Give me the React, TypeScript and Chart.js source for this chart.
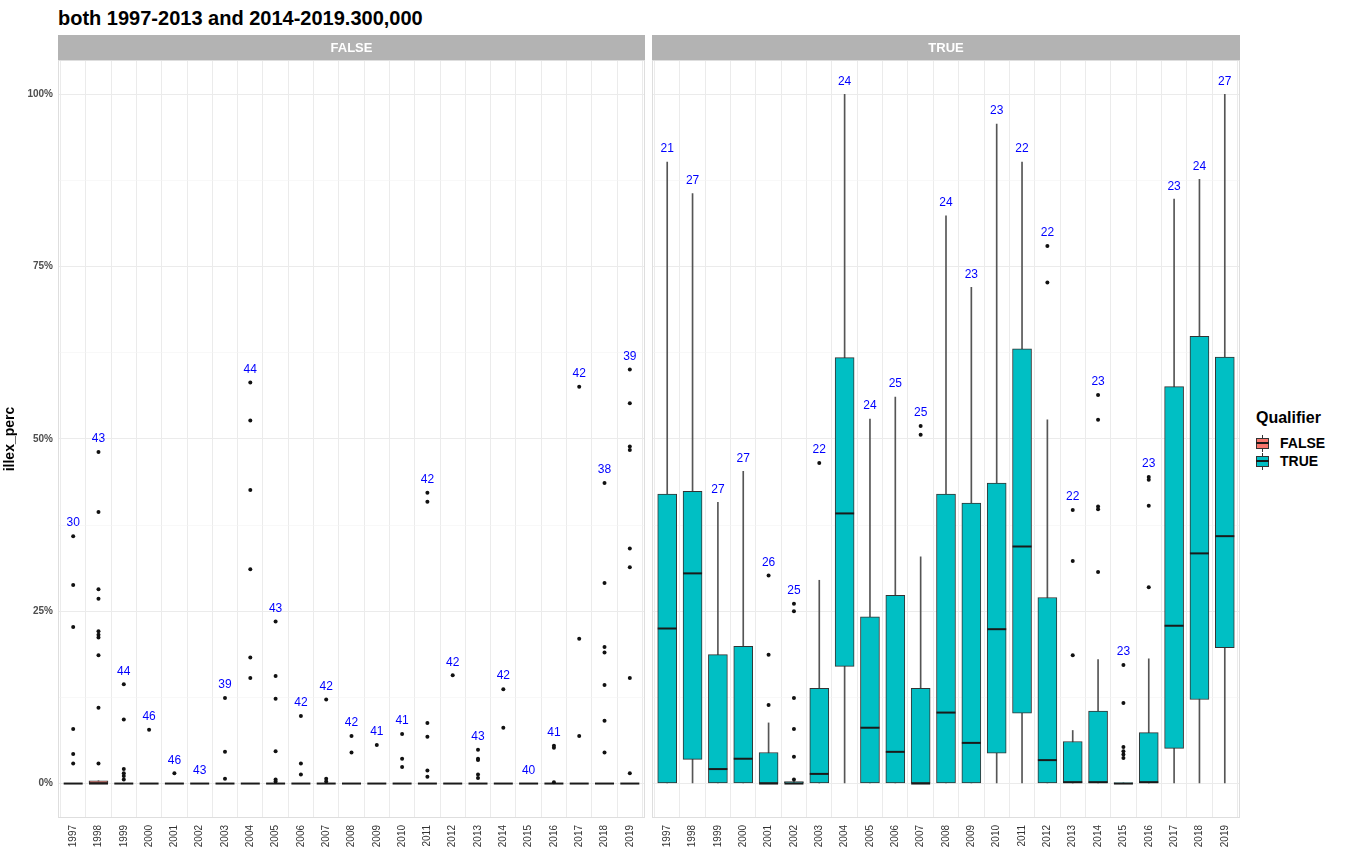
import React, { useEffect, useRef } from 'react';
import { Chart, registerables } from 'chart.js';

Chart.register(...registerables);

const FONT = '"Liberation Sans", Arial, Helvetica, sans-serif';
Chart.defaults.font.family = FONT;

const years = ['1997', '1998', '1999', '2000', '2001', '2002', '2003', '2004', '2005', '2006', '2007', '2008',
  '2009', '2010', '2011', '2012', '2013', '2014', '2015', '2016', '2017', '2018', '2019'];

const yGridValues = [0, 12.5, 25, 37.5, 50, 62.5, 75, 87.5, 100];

// ---- Facet FALSE ----
const falseLo = [0, 0, 0, 0, 0, 0, 0, 0, 0, 0, 0, 0, 0, 0, 0, 0, 0, 0, 0, 0, 0, 0, 0];
const falseQ1 = [0, 0, 0, 0, 0, 0, 0, 0, 0, 0, 0, 0, 0, 0, 0, 0, 0, 0, 0, 0, 0, 0, 0];
const falseMedian = [0, 0, 0, 0, 0, 0, 0, 0, 0, 0, 0, 0, 0, 0, 0, 0, 0, 0, 0, 0, 0, 0, 0];
const falseQ3 = [0, 0.4, 0, 0, 0, 0, 0, 0, 0, 0, 0, 0, 0, 0, 0, 0, 0, 0, 0, 0, 0, 0, 0];
const falseHi = [0, 0.4, 0, 0, 0, 0, 0, 0, 0, 0, 0, 0, 0, 0, 0, 0, 0, 0, 0, 0, 0, 0, 0];
const falseOutliers: number[][] = [
  [35.9, 28.8, 22.7, 7.9, 4.3, 2.9],
  [48.1, 39.4, 28.2, 26.8, 22.1, 21.6, 21.2, 18.6, 11.0, 2.9],
  [14.4, 9.3, 2.1, 1.5, 1.1, 0.6],
  [7.8],
  [1.5],
  [],
  [12.4, 4.6, 0.7],
  [58.2, 52.7, 42.6, 31.1, 18.3, 15.3],
  [23.5, 15.6, 12.3, 4.7, 0.6, 0.3],
  [9.8, 2.9, 1.3],
  [12.2, 0.7, 0.3],
  [6.9, 4.5],
  [5.6],
  [7.2, 3.6, 2.4],
  [42.2, 40.9, 8.8, 6.8, 1.9, 1.0],
  [15.7],
  [4.9, 3.6, 3.4, 1.3, 0.8],
  [13.7, 8.1],
  [],
  [5.5, 5.2, 0.2],
  [57.6, 21.0, 6.9],
  [43.6, 29.1, 19.8, 19.0, 14.3, 9.1, 4.5],
  [60.1, 55.2, 48.9, 48.4, 34.1, 31.4, 15.3, 1.5],
];
const falseCounts = [30, 43, 44, 46, 46, 43, 39, 44, 43, 42, 42, 42, 41, 41, 42, 42, 43, 42, 40, 41, 42, 38, 39];

// ---- Facet TRUE ----
const trueLo = [0, 0, 0, 0, 0, 0, 0, 0, 0, 0, 0, 0, 0, 0, 0, 0, 0, 0, 0, 0, 0, 0, 0];
const trueQ1 = [0, 3.5, 0, 0, 0, 0, 0, 17.0, 0, 0, 0, 0, 0, 4.4, 10.2, 0, 0, 0, 0, 0, 5.1, 12.2, 19.7];
const trueMedian = [22.5, 30.5, 2.1, 3.6, 0, 0, 1.4, 39.2, 8.1, 4.6, 0, 10.3, 5.9, 22.4, 34.4, 3.4, 0.2, 0.2, 0, 0.2, 22.9, 33.4, 35.9];
const trueQ3 = [42.0, 42.4, 18.7, 19.9, 4.5, 0.3, 13.8, 61.8, 24.2, 27.3, 13.8, 42.0, 40.7, 43.6, 63.1, 27.0, 6.1, 10.5, 0.1, 7.4, 57.6, 64.9, 61.9];
const trueHi = [90.2, 85.6, 40.8, 45.3, 8.8, 0.3, 29.5, 100, 52.9, 56.1, 32.9, 82.4, 72.0, 95.7, 90.2, 52.8, 7.7, 18.0, 0.1, 18.1, 84.8, 87.7, 100];
const trueOutliers: number[][] = [
  [],
  [],
  [],
  [],
  [30.2, 18.7, 11.4],
  [26.1, 25.0, 12.4, 7.9, 3.9, 0.6],
  [46.5],
  [],
  [],
  [],
  [51.9, 50.6],
  [],
  [],
  [],
  [],
  [78.0, 72.7],
  [39.7, 32.3, 18.6],
  [56.4, 52.8, 40.2, 39.8, 30.7],
  [17.2, 11.7, 5.3, 4.7, 4.2, 3.7],
  [44.5, 44.1, 40.3, 28.5],
  [],
  [],
  [],
];
const trueCounts = [21, 27, 27, 27, 26, 25, 22, 24, 24, 25, 25, 24, 23, 23, 22, 22, 22, 23, 23, 23, 23, 24, 27];

type Panel = {
  name: string;
  fill: string;
  lo: number[];
  q1: number[];
  med: number[];
  q3: number[];
  hi: number[];
  out: number[][];
  n: number[];
  showY: boolean;
};

const panels: Panel[] = [
  { name: 'FALSE', fill: '#F8766D', lo: falseLo, q1: falseQ1, med: falseMedian, q3: falseQ3, hi: falseHi, out: falseOutliers, n: falseCounts, showY: true },
  { name: 'TRUE', fill: '#00BFC4', lo: trueLo, q1: trueQ1, med: trueMedian, q3: trueQ3, hi: trueHi, out: trueOutliers, n: trueCounts, showY: false },
];

function buildChart(canvas: HTMLCanvasElement, p: Panel) {
  const whiskerData = years.map((_, i) => ({ x: i, y: [p.lo[i], p.hi[i]] }));
  const boxData = years.map((_, i) => ({ x: i, y: [p.q1[i], p.q3[i]] }));
  const medData = years.map((_, i) => ({ x: i, y: p.med[i] }));
  const outData = p.out.flatMap((arr, i) => arr.map((v) => ({ x: i, y: v })));

  const stripPlugin = {
    id: 'strip',
    beforeDraw(chart: any) {
      const { ctx, chartArea: a } = chart;
      ctx.save();
      ctx.fillStyle = '#B3B3B3';
      ctx.fillRect(a.left, 0, a.right - a.left, 25);
      ctx.fillStyle = '#FFFFFF';
      ctx.font = `bold 13px ${FONT}`;
      ctx.textAlign = 'center';
      ctx.textBaseline = 'middle';
      ctx.fillText(p.name, (a.left + a.right) / 2, 13);
      ctx.restore();
    },
    beforeDatasetsDraw(chart: any) {
      const { ctx, chartArea: a } = chart;
      ctx.save();
      ctx.strokeStyle = '#DEDEDE';
      ctx.lineWidth = 1;
      ctx.strokeRect(a.left + 0.5, a.top + 0.5, a.right - a.left - 1, a.bottom - a.top - 1);
      ctx.restore();
    },
  };

  const countPlugin = {
    id: 'counts',
    afterDatasetsDraw(chart: any) {
      const { ctx, scales } = chart;
      const xs = scales.x;
      const ys = scales.y;
      ctx.save();
      ctx.fillStyle = '#0000FF';
      ctx.font = `12px ${FONT}`;
      ctx.textAlign = 'center';
      ctx.textBaseline = 'middle';
      p.n.forEach((n, i) => {
        const top = Math.max(p.hi[i], p.q3[i], ...p.out[i]);
        ctx.fillText(String(n), xs.getPixelForValue(i), ys.getPixelForValue(top) - 13);
      });
      ctx.restore();
    },
  };

  return new Chart(canvas, {
    type: 'bar',
    data: {
      datasets: [
        {
          type: 'bar',
          data: whiskerData as any,
          backgroundColor: '#555555',
          borderWidth: 0,
          barThickness: 1,
          grouped: false,
          order: 4,
        } as any,
        {
          type: 'bar',
          data: boxData as any,
          backgroundColor: p.fill,
          borderColor: '#333333',
          borderWidth: 1,
          borderSkipped: false,
          barThickness: 19,
          grouped: false,
          order: 3,
        } as any,
        {
          type: 'line',
          data: medData as any,
          showLine: false,
          pointStyle: 'line',
          pointRadius: 9.5,
          pointHoverRadius: 9.5,
          pointBorderWidth: 2,
          pointBorderColor: '#1A1A1A',
          order: 2,
        } as any,
        {
          type: 'line',
          data: outData as any,
          showLine: false,
          pointStyle: 'circle',
          pointRadius: 2,
          pointHoverRadius: 2,
          pointBackgroundColor: '#111111',
          pointBorderWidth: 0,
          order: 1,
        } as any,
      ],
    },
    options: {
      responsive: false,
      animation: false,
      events: [],
      layout: { autoPadding: false, padding: { top: 25, right: p.showY ? 1 : 0, left: 0, bottom: 0 } },
      plugins: { legend: { display: false }, tooltip: { enabled: false }, title: { display: false } },
      scales: {
        x: {
          type: 'linear',
          min: -0.6,
          max: 22.6,
          offset: false,
          grid: { color: '#EBEBEB', lineWidth: 1, drawTicks: false },
          border: { display: false },
          afterBuildTicks: (s: any) => {
            s.ticks = years.map((_, i) => ({ value: i }));
          },
          afterFit: (s: any) => {
            s.height = 34;
            s.paddingLeft = 0;
            s.paddingRight = 0;
          },
          ticks: {
            autoSkip: false,
            minRotation: 90,
            maxRotation: 90,
            padding: 7,
            color: '#333333',
            font: { size: 10 },
            callback: (v: any) => years[v] ?? '',
          },
        },
        y: {
          type: 'linear',
          min: -5,
          max: 105,
          afterBuildTicks: (s: any) => {
            s.ticks = yGridValues.map((v) => ({ value: v }));
          },
          afterFit: (s: any) => {
            s.width = p.showY ? 58 : 0;
            s.paddingTop = 0;
            s.paddingBottom = 0;
          },
          grid: {
            drawTicks: false,
            color: (c: any) => (c.tick && c.tick.value % 25 === 0 ? '#EBEBEB' : '#F4F4F4'),
            lineWidth: (c: any) => (c.tick && c.tick.value % 25 === 0 ? 1.1 : 0.6),
          },
          border: { display: false },
          ticks: {
            display: p.showY,
            padding: 5,
            color: '#4D4D4D',
            font: { size: 10, weight: 'bold' },
            callback: (v: any) => (v % 25 === 0 ? `${v}%` : ''),
          },
          title: {
            display: p.showY,
            text: 'illex_perc',
            color: '#000000',
            font: { size: 14, weight: 'bold' },
            padding: { top: 2, bottom: 0 },
          },
        },
      },
    } as any,
    plugins: [stripPlugin, countPlugin],
  });
}

function LegendKey({ color }: { color: string }) {
  return (
    <div style={{ position: 'relative', width: 13, height: 17 }}>
      <div style={{ position: 'absolute', left: 6, top: 0, width: 1, height: 17, background: '#333' }} />
      <div style={{ position: 'absolute', left: 0, top: 3, width: 11, height: 9, background: color, border: '1px solid #333' }} />
      <div style={{ position: 'absolute', left: 0, top: 7.5, width: 13, height: 2, background: '#1A1A1A' }} />
    </div>
  );
}

export default function App() {
  const leftRef = useRef<HTMLCanvasElement>(null);
  const rightRef = useRef<HTMLCanvasElement>(null);

  useEffect(() => {
    const c1 = buildChart(leftRef.current!, panels[0]);
    const c2 = buildChart(rightRef.current!, panels[1]);
    return () => {
      c1.destroy();
      c2.destroy();
    };
  }, []);

  return (
    <div style={{ position: 'absolute', left: 0, top: 0, width: 1348, height: 852, background: '#FFFFFF', fontFamily: FONT, overflow: 'hidden' }}>
      <div style={{ position: 'absolute', left: 58, top: 7, fontSize: 20, lineHeight: '22px', fontWeight: 'bold', color: '#000', whiteSpace: 'nowrap' }}>
        both 1997-2013 and 2014-2019.300,000
      </div>
      <canvas ref={leftRef} width={646} height={817} style={{ position: 'absolute', left: 0, top: 35, width: 646, height: 817 }} />
      <canvas ref={rightRef} width={588} height={817} style={{ position: 'absolute', left: 652, top: 35, width: 588, height: 817 }} />
      <div style={{ position: 'absolute', left: 1256, top: 408, color: '#000' }}>
        <div style={{ fontWeight: 'bold', fontSize: 16, lineHeight: '20px' }}>Qualifier</div>
        <div style={{ marginTop: 6 }}>
          {panels.map((p) => (
            <div key={p.name} style={{ display: 'flex', alignItems: 'center', height: 18 }}>
              <LegendKey color={p.fill} />
              <span style={{ marginLeft: 11, fontWeight: 'bold', fontSize: 14 }}>{p.name}</span>
            </div>
          ))}
        </div>
      </div>
    </div>
  );
}
